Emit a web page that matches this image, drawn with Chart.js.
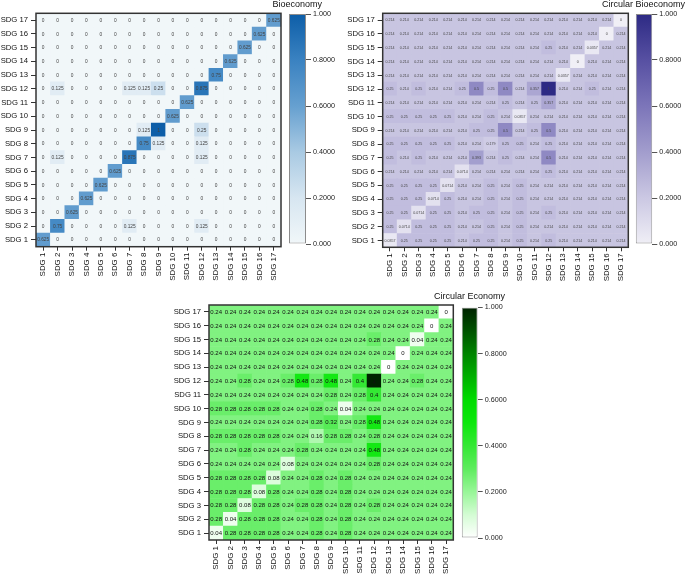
<!DOCTYPE html>
<html><head><meta charset="utf-8">
<script src="https://cdn.jsdelivr.net/npm/chart.js@4.4.1/dist/chart.umd.min.js"></script>
<style>
html,body{margin:0;padding:0;background:#fff;}
#wrap{position:relative;width:685px;height:576px;overflow:hidden;background:#fff;}
canvas{position:absolute;}
</style>
</head><body><div id="wrap">
<canvas id="hmA" width="322" height="290" style="left:0px;top:0px"></canvas>
<canvas id="cbA" width="63" height="290" style="left:282px;top:0px"></canvas>
<canvas id="hmB" width="340" height="290" style="left:345px;top:0px"></canvas>
<canvas id="cbB" width="55" height="290" style="left:630px;top:0px"></canvas>
<canvas id="hmC" width="345" height="291" style="left:160px;top:285px"></canvas>
<canvas id="cbC" width="65" height="286" style="left:455px;top:290px"></canvas>
</div>
<script>
// ---------- DATA ----------
const sdgLabels = ['SDG 1','SDG 2','SDG 3','SDG 4','SDG 5','SDG 6','SDG 7','SDG 8','SDG 9','SDG 10','SDG 11','SDG 12','SDG 13','SDG 14','SDG 15','SDG 16','SDG 17'];

// rows: SDG 1 .. SDG 17 (bottom to top); columns: SDG 1 .. SDG 17
const bioeconomy = [
 [0.625,0,0,0,0,0,0,0,0,0,0,0,0,0,0,0,0],
 [0,0.75,0,0,0,0,0.125,0,0,0,0,0.125,0,0,0,0,0],
 [0,0,0.625,0,0,0,0,0,0,0,0,0,0,0,0,0,0],
 [0,0,0,0.625,0,0,0,0,0,0,0,0,0,0,0,0,0],
 [0,0,0,0,0.625,0,0,0,0,0,0,0,0,0,0,0,0],
 [0,0,0,0,0,0.625,0,0,0,0,0,0,0,0,0,0,0],
 [0,0.125,0,0,0,0,0.875,0,0,0,0,0.125,0,0,0,0,0],
 [0,0,0,0,0,0,0,0.75,0.125,0,0,0.125,0,0,0,0,0],
 [0,0,0,0,0,0,0,0.125,1,0,0,0.25,0,0,0,0,0],
 [0,0,0,0,0,0,0,0,0,0.625,0,0,0,0,0,0,0],
 [0,0,0,0,0,0,0,0,0,0,0.625,0,0,0,0,0,0],
 [0,0.125,0,0,0,0,0.125,0.125,0.25,0,0,0.875,0,0,0,0,0],
 [0,0,0,0,0,0,0,0,0,0,0,0,0.75,0,0,0,0],
 [0,0,0,0,0,0,0,0,0,0,0,0,0,0.625,0,0,0],
 [0,0,0,0,0,0,0,0,0,0,0,0,0,0,0.625,0,0],
 [0,0,0,0,0,0,0,0,0,0,0,0,0,0,0,0.625,0],
 [0,0,0,0,0,0,0,0,0,0,0,0,0,0,0,0,0.625]
];

const circularBioeconomy = [
 [0.0357,0.25,0.25,0.25,0.25,0.214,0.25,0.25,0.214,0.25,0.214,0.25,0.214,0.214,0.214,0.214,0.214],
 [0.25,0.0714,0.25,0.25,0.25,0.214,0.214,0.25,0.214,0.25,0.214,0.214,0.214,0.214,0.214,0.214,0.214],
 [0.25,0.25,0.0714,0.25,0.25,0.214,0.25,0.25,0.214,0.25,0.214,0.25,0.214,0.214,0.214,0.214,0.214],
 [0.25,0.25,0.25,0.0714,0.25,0.214,0.214,0.25,0.214,0.25,0.214,0.214,0.214,0.214,0.214,0.214,0.214],
 [0.25,0.25,0.25,0.25,0.0714,0.214,0.214,0.25,0.214,0.25,0.214,0.214,0.214,0.214,0.214,0.214,0.214],
 [0.214,0.214,0.214,0.214,0.214,0.0714,0.214,0.214,0.214,0.214,0.214,0.25,0.214,0.214,0.214,0.214,0.214],
 [0.25,0.214,0.25,0.214,0.214,0.214,0.393,0.214,0.25,0.214,0.214,0.5,0.214,0.214,0.214,0.214,0.214],
 [0.25,0.25,0.25,0.25,0.25,0.214,0.214,0.179,0.25,0.25,0.214,0.25,0.214,0.214,0.214,0.214,0.214],
 [0.214,0.214,0.214,0.214,0.214,0.214,0.25,0.25,0.5,0.214,0.25,0.5,0.214,0.214,0.214,0.214,0.214],
 [0.25,0.25,0.25,0.25,0.25,0.214,0.214,0.25,0.214,0.0357,0.214,0.214,0.214,0.214,0.214,0.214,0.214],
 [0.214,0.214,0.214,0.214,0.214,0.214,0.214,0.214,0.25,0.214,0.25,0.357,0.214,0.214,0.214,0.214,0.214],
 [0.25,0.214,0.25,0.214,0.214,0.25,0.5,0.25,0.5,0.214,0.357,1,0.214,0.214,0.25,0.214,0.214],
 [0.214,0.214,0.214,0.214,0.214,0.214,0.214,0.214,0.214,0.214,0.214,0.214,0.0357,0.214,0.214,0.214,0.214],
 [0.214,0.214,0.214,0.214,0.214,0.214,0.214,0.214,0.214,0.214,0.214,0.214,0.214,0,0.214,0.214,0.214],
 [0.214,0.214,0.214,0.214,0.214,0.214,0.214,0.214,0.214,0.214,0.214,0.25,0.214,0.214,0.0357,0.214,0.214],
 [0.214,0.214,0.214,0.214,0.214,0.214,0.214,0.214,0.214,0.214,0.214,0.214,0.214,0.214,0.214,0,0.214],
 [0.214,0.214,0.214,0.214,0.214,0.214,0.214,0.214,0.214,0.214,0.214,0.214,0.214,0.214,0.214,0.214,0]
];

const circularEconomy = [
 [0.04,0.28,0.28,0.28,0.28,0.24,0.24,0.28,0.24,0.28,0.24,0.24,0.24,0.24,0.24,0.24,0.24],
 [0.28,0.04,0.28,0.28,0.28,0.24,0.24,0.28,0.24,0.28,0.24,0.24,0.24,0.24,0.24,0.24,0.24],
 [0.28,0.28,0.08,0.28,0.28,0.24,0.28,0.28,0.24,0.28,0.24,0.28,0.24,0.24,0.24,0.24,0.24],
 [0.28,0.28,0.28,0.08,0.28,0.24,0.24,0.28,0.24,0.28,0.24,0.24,0.24,0.24,0.24,0.24,0.24],
 [0.28,0.28,0.28,0.28,0.08,0.24,0.24,0.28,0.24,0.28,0.24,0.24,0.24,0.24,0.24,0.24,0.24],
 [0.24,0.24,0.24,0.24,0.24,0.08,0.24,0.24,0.24,0.24,0.24,0.28,0.24,0.24,0.24,0.24,0.24],
 [0.24,0.24,0.28,0.24,0.24,0.24,0.28,0.24,0.24,0.24,0.24,0.48,0.24,0.24,0.24,0.24,0.24],
 [0.28,0.28,0.28,0.28,0.28,0.24,0.24,0.16,0.28,0.28,0.24,0.28,0.24,0.24,0.24,0.24,0.24],
 [0.24,0.24,0.24,0.24,0.24,0.24,0.24,0.28,0.32,0.24,0.28,0.48,0.24,0.24,0.24,0.24,0.24],
 [0.28,0.28,0.28,0.28,0.28,0.24,0.24,0.28,0.24,0.04,0.24,0.24,0.24,0.24,0.24,0.24,0.24],
 [0.24,0.24,0.24,0.24,0.24,0.24,0.24,0.24,0.28,0.24,0.28,0.4,0.24,0.24,0.24,0.24,0.24],
 [0.24,0.24,0.28,0.24,0.24,0.28,0.48,0.28,0.48,0.24,0.4,1,0.24,0.24,0.28,0.24,0.24],
 [0.24,0.24,0.24,0.24,0.24,0.24,0.24,0.24,0.24,0.24,0.24,0.24,0,0.24,0.24,0.24,0.24],
 [0.24,0.24,0.24,0.24,0.24,0.24,0.24,0.24,0.24,0.24,0.24,0.24,0.24,0,0.24,0.24,0.24],
 [0.24,0.24,0.24,0.24,0.24,0.24,0.24,0.24,0.24,0.24,0.24,0.28,0.24,0.24,0.04,0.24,0.24],
 [0.24,0.24,0.24,0.24,0.24,0.24,0.24,0.24,0.24,0.24,0.24,0.24,0.24,0.24,0.24,0,0.24],
 [0.24,0.24,0.24,0.24,0.24,0.24,0.24,0.24,0.24,0.24,0.24,0.24,0.24,0.24,0.24,0.24,0]
];

const colorbarTicks = [0, 0.2, 0.4, 0.6, 0.8, 1];
const colorbarTickLabels = ['0.000', '0.2000', '0.4000', '0.6000', '0.8000', '1.000'];

// ---------- STYLES ----------
const bluesStops = [[0,'#f1f7f9'],[0.2,'#d7e6f1'],[0.4,'#a9cae3'],[0.6,'#66a0d0'],[0.8,'#3a82c1'],[1,'#0d5ea8']];
const purplesStops = [[0,'#f0eff6'],[0.2,'#cbc8e3'],[0.4,'#a29dcd'],[0.6,'#7c75b9'],[0.8,'#5750a2'],[1,'#2d2a84']];
const greensStops = [[0,'#ffffff'],[0.1,'#d4fcd4'],[0.2,'#98f698'],[0.3,'#5eec5e'],[0.4,'#34e834'],[0.5,'#0ce80c'],[0.6,'#00dc00'],[0.7,'#00b000'],[0.8,'#008400'],[0.9,'#005200'],[1,'#002200']];

const FONT = "'Liberation Sans', Arial, Helvetica, sans-serif";
Chart.defaults.font.family = FONT;

function hexToRgb(h){ const n = parseInt(h.slice(1),16); return [(n>>16)&255,(n>>8)&255,n&255]; }
function makeColormap(stops){
  const s = stops.map(([p,c]) => [p, hexToRgb(c)]);
  return v => {
    if (v <= s[0][0]) return 'rgb(' + s[0][1].join(',') + ')';
    for (let i = 1; i < s.length; i++) {
      if (v <= s[i][0]) {
        const t = (v - s[i-1][0]) / (s[i][0] - s[i-1][0]);
        const c = s[i-1][1].map((a,k) => Math.round(a + (s[i][1][k]-a)*t));
        return 'rgb(' + c.join(',') + ')';
      }
    }
    return 'rgb(' + s[s.length-1][1].join(',') + ')';
  };
}

const cellTextPlugin = {
  id: 'cellText',
  afterDatasetsDraw(chart, args, opts){
    const ctx = chart.ctx;
    ctx.save();
    ctx.font = opts.size + 'px ' + FONT;
    ctx.fillStyle = opts.color;
    ctx.textAlign = 'center';
    ctx.textBaseline = 'middle';
    chart.data.datasets.forEach((ds, di) => {
      const meta = chart.getDatasetMeta(di);
      meta.data.forEach((el, ci) => {
        const p = el.getProps(['x','y','base'], true);
        ctx.fillText(String(ds.cellValues[ci]), p.x, (p.y + p.base) / 2 + 0.3);
      });
    });
    ctx.restore();
  }
};

const framePlugin = {
  id: 'frame',
  afterDraw(chart, args, opts){
    const {left, top, right, bottom} = chart.chartArea;
    const ctx = chart.ctx;
    ctx.save();
    ctx.strokeStyle = opts.color;
    ctx.lineWidth = opts.width;
    ctx.strokeRect(left, top, right - left, bottom - top);
    ctx.restore();
  }
};

function buildHeatmap(id, matrix, stops, o){
  const cmap = makeColormap(stops);
  const datasets = matrix.map((row, r) => ({
    label: sdgLabels[r],
    data: row.map(() => 1),
    cellValues: row,
    backgroundColor: row.map(cmap),
    borderWidth: 0,
    categoryPercentage: 1,
    barPercentage: 1
  }));
  new Chart(document.getElementById(id), {
    type: 'bar',
    data: { labels: sdgLabels, datasets },
    options: {
      responsive: false,
      animation: false,
      layout: { padding: 0 },
      plugins: {
        legend: { display: false },
        tooltip: { enabled: false },
        title: { display: true, text: o.title, align: 'end', color: '#111',
                 font: { size: 9, lineHeight: 1, weight: 'normal' },
                 padding: { top: o.titleTop, bottom: o.titleBottom } },
        cellText: { size: o.textSize, color: o.textColor },
        frame: { color: '#333', width: 1.5 }
      },
      scales: {
        x: {
          type: 'category', stacked: true, offset: true,
          grid: { display: true, offset: false, drawOnChartArea: false, drawTicks: true, tickLength: 4, color: '#333' },
          border: { display: false },
          ticks: { autoSkip: false, minRotation: 90, maxRotation: 90, padding: 2, color: '#111', font: { size: 7.9 } },
          afterFit(s){ s.height = o.xHeight; }
        },
        y: {
          type: 'linear', stacked: true, min: 0, max: sdgLabels.length,
          afterBuildTicks(s){ s.ticks = sdgLabels.map((l, i) => ({ value: i + 0.5 })); },
          ticks: { autoSkip: false, callback: v => sdgLabels[Math.round(v - 0.5)], padding: 3, color: '#111', font: { size: 7.7 } },
          grid: { display: true, drawOnChartArea: false, drawTicks: true, tickLength: 5, color: '#333' },
          border: { display: false },
          afterFit(s){ s.width = o.yWidth; }
        },
        y2: {
          type: 'linear', position: 'right', display: true,
          ticks: { display: false }, grid: { display: false }, border: { display: false },
          afterFit(s){ s.width = o.y2Width; }
        }
      }
    },
    plugins: [cellTextPlugin, framePlugin]
  });
}

function buildColorbar(id, stops, o){
  new Chart(document.getElementById(id), {
    type: 'bar',
    data: { labels: [''], datasets: [{
      data: [1],
      backgroundColor: c => {
        const ca = c.chart.chartArea;
        if (!ca) return stops[0][1];
        const g = c.chart.ctx.createLinearGradient(0, ca.bottom, 0, ca.top);
        stops.forEach(s => g.addColorStop(s[0], s[1]));
        return g;
      },
      borderColor: '#8c8c8c', borderWidth: 1, borderSkipped: false,
      categoryPercentage: 1, barPercentage: 1, inflateAmount: 0
    }]},
    options: {
      responsive: false, animation: false,
      layout: { padding: { left: o.left, top: o.top, bottom: o.bottom, right: 0 } },
      plugins: { legend: { display: false }, tooltip: { enabled: false } },
      scales: {
        x: { display: false },
        y: {
          position: 'right', min: 0, max: 1,
          afterBuildTicks(s){ s.ticks = colorbarTicks.map(v => ({ value: v })); },
          ticks: { autoSkip: false, callback: (v, i) => colorbarTickLabels[i], padding: 2, color: '#222', font: { size: 7.2 } },
          grid: { display: true, drawOnChartArea: false, drawTicks: true, tickLength: 5, color: '#555' },
          border: { display: false },
          afterFit(s){ s.width = o.axisWidth; }
        }
      }
    }
  });
}

buildHeatmap('hmA', bioeconomy, bluesStops, { title: 'Bioeconomy', titleTop: 0, titleBottom: 4.3, textSize: 4.8, textColor: '#444', xHeight: 43.3, yWidth: 36, y2Width: 41 });
buildColorbar('cbA', bluesStops, { left: 7, top: 14, bottom: 46, axisWidth: 39 });

buildHeatmap('hmB', circularBioeconomy, purplesStops, { title: 'Circular Bioeconomy', titleTop: 0, titleBottom: 4.3, textSize: 3.6, textColor: '#444', xHeight: 42.7, yWidth: 37.7, y2Width: 56.7 });
buildColorbar('cbB', purplesStops, { left: 5.7, top: 14, bottom: 46, axisWidth: 32.7 });

buildHeatmap('hmC', circularEconomy, greensStops, { title: 'Circular Economy', titleTop: 7.2, titleBottom: 3.8, textSize: 6, textColor: '#111', xHeight: 36, yWidth: 49, y2Width: 51.7 });
buildColorbar('cbC', greensStops, { left: 6.7, top: 17.5, bottom: 38, axisWidth: 42.3 });
</script>
</body></html>
